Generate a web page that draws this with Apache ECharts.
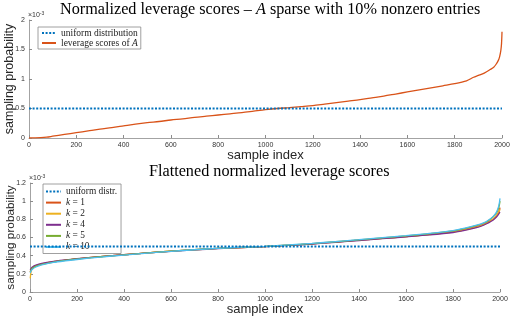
<!DOCTYPE html>
<html><head><meta charset="utf-8">
<script src="https://cdn.jsdelivr.net/npm/echarts@6/dist/echarts.min.js"></script>
<style>html,body{margin:0;padding:0;background:#fff}#c{width:517px;height:318px}</style>
</head><body><div id="c"></div>
<script>
// Top chart: sorted leverage scores (units of 1e-3)
const topX = [0,25,50,75,100,150,200,250,300,350,400,450,500,550,600,650,700,750,800,850,900,950,1000,1050,1100,1150,1200,1250,1300,1350,1400,1450,1500,1550,1600,1650,1700,1750,1800,1850,1880,1900,1925,1950,1965,1975,1985,1990,1995,1998,2000];
const topLev = [0,0.002,0.006,0.015,0.03,0.06,0.09,0.12,0.15,0.175,0.205,0.235,0.26,0.28,0.305,0.325,0.35,0.37,0.39,0.41,0.43,0.455,0.48,0.5,0.515,0.532,0.55,0.575,0.6,0.625,0.65,0.68,0.71,0.745,0.78,0.815,0.85,0.885,0.92,0.97,1.03,1.06,1.1,1.16,1.2,1.25,1.32,1.38,1.48,1.6,1.8];
const uniformVal = 0.5;
const xRange = [0, 2000];

// Bottom chart: flattened leverage scores (units of 1e-3)
const botX = [1,5,10,25,50,100,150,200,300,400,500,600,700,800,900,1000,1100,1200,1300,1400,1500,1600,1700,1800,1850,1900,1930,1950,1970,1985,1995,2000];
const k1  = [0.22,0.25,0.265,0.29,0.31,0.335,0.35,0.365,0.39,0.41,0.43,0.45,0.465,0.48,0.49,0.5,0.515,0.53,0.55,0.57,0.59,0.61,0.635,0.665,0.69,0.72,0.745,0.77,0.8,0.84,0.88,0.93];
const k2  = [0.15,0.23,0.255,0.285,0.305,0.333,0.35,0.365,0.39,0.41,0.43,0.45,0.465,0.48,0.49,0.5,0.515,0.53,0.55,0.57,0.59,0.61,0.632,0.66,0.685,0.715,0.74,0.765,0.8,0.84,0.88,0.91];
const k4  = [0.24,0.26,0.275,0.295,0.315,0.338,0.353,0.366,0.39,0.41,0.43,0.448,0.463,0.478,0.49,0.5,0.513,0.528,0.547,0.567,0.587,0.607,0.628,0.655,0.678,0.708,0.735,0.76,0.79,0.825,0.86,0.88];
const k5  = [0.22,0.245,0.26,0.285,0.305,0.33,0.348,0.362,0.388,0.409,0.43,0.45,0.466,0.481,0.492,0.502,0.517,0.533,0.553,0.574,0.595,0.617,0.642,0.672,0.698,0.73,0.757,0.785,0.825,0.87,0.93,1.0];
const k10 = [0.21,0.235,0.25,0.275,0.298,0.325,0.343,0.358,0.385,0.407,0.428,0.448,0.465,0.481,0.493,0.503,0.518,0.535,0.555,0.576,0.598,0.62,0.645,0.676,0.702,0.735,0.762,0.79,0.83,0.88,0.95,1.03];
const kNames = ['k = 1','k = 2','k = 4','k = 5','k = 10'];

const C = {blue:'#0072BD', orange:'#D95319', yellow:'#EDB120', purple:'#7E2F8E', green:'#77AC30', cyan:'#4DBEEE'};
const pair = (xs, ys) => xs.map((x,i)=>[x, ys[i]]);
const axisCol = '#8c8c8c';
const serif = 'Liberation Serif';
const sans = 'Liberation Sans';

function xAxis(gi){
  return {type:'value', gridIndex:gi, min:0, max:2000, interval:200,
    name:'sample index', nameLocation:'middle', nameGap:11, nameMoveOverlap:false,
    nameTextStyle:{fontFamily:sans, fontSize:13, color:'#262626'},
    axisLine:{lineStyle:{color:axisCol, width:0.8}},
    axisTick:{inside:true, length:3, lineStyle:{color:axisCol}},
    axisLabel:{fontFamily:sans, fontSize:7, color:'#333', margin:4, formatter: v => String(v)},
    splitLine:{show:false}};
}
function yAxis(gi, max, interval, fs){
  return {type:'value', gridIndex:gi, min:0, max:max, interval:interval,
    name:'sampling probability', nameLocation:'middle', nameGap:13, nameMoveOverlap:false,
    nameTextStyle:{fontFamily:sans, fontSize:fs, color:'#262626'},
    axisLine:{show:true, lineStyle:{color:axisCol, width:0.8}},
    axisTick:{show:true, inside:true, length:3, lineStyle:{color:axisCol}},
    axisLabel:{fontFamily:sans, fontSize:7, color:'#333', margin:4, formatter: v => String(+v.toFixed(2))},
    splitLine:{show:false}};
}
const uniLine = (gi, name) => ({name:name, type:'line', xAxisIndex:gi, yAxisIndex:gi, symbol:'none',
  data:pair(xRange, [uniformVal, uniformVal]), lineStyle:{color:C.blue, width:2, type:[2,1.6]}, itemStyle:{color:C.blue}, z:5});
const curve = (gi, name, xs, ys, col) => ({name:name, type:'line', xAxisIndex:gi, yAxisIndex:gi, symbol:'none', smooth:0.3,
  data:pair(xs, ys), lineStyle:{color:col, width:1.3}, itemStyle:{color:col}});

const mkRich = fs => ({n:{fontFamily:serif, fontSize:fs, color:'#222'}, i:{fontFamily:serif, fontSize:fs, fontStyle:'italic', color:'#222'}});

const chart = echarts.init(document.getElementById('c'), null, {renderer:'canvas'});
chart.setOption({
  animation:false,
  backgroundColor:'#fff',
  title:[
    {text:'{n|Normalized leverage scores – }{i|A}{n| sparse with 10% nonzero entries}', left:55, top:-3,
      textStyle:{fontWeight:'normal', rich:{n:{fontFamily:serif, fontSize:16.2, fontWeight:'normal', color:'#000'}, i:{fontFamily:serif, fontSize:16.2, fontWeight:'normal', fontStyle:'italic', color:'#000'}}}},
    {text:'Flattened normalized leverage scores', left:144, top:159,
      textStyle:{fontFamily:serif, fontSize:16.2, fontWeight:'normal', color:'#000'}}
  ],
  grid:[
    {left:29, right:15, top:20, bottom:180, outerBoundsMode:'none', containLabel:false},
    {left:30, right:17, top:183, bottom:26, outerBoundsMode:'none', containLabel:false}
  ],
  xAxis:[xAxis(0), xAxis(1)],
  yAxis:[yAxis(0, 2, 0.5, 12.5), yAxis(1, 1.2, 0.2, 11.8)],
  legend:[
    {data:['uniform distribution','leverage scores of A'], orient:'vertical', left:38, top:27,
      itemWidth:14, itemHeight:6, itemGap:0, padding:[1,3,1,3], borderColor:'#888', borderWidth:0.8, backgroundColor:'#fff',
      itemStyle:{opacity:0},
      formatter: n => n==='leverage scores of A' ? '{n|leverage scores of }{i|A}' : '{n|'+n+'}',
      textStyle:{rich:mkRich(9.5)}},
    {data:['uniform distr.'].concat(kNames), orient:'vertical', left:43, top:184,
      itemWidth:15, itemHeight:6, itemGap:2.1, padding:[3,4,2,2], borderColor:'#888', borderWidth:0.8, backgroundColor:'#fff',
      itemStyle:{opacity:0},
      formatter: n => n.startsWith('k = ') ? '{i|k}{n| = '+n.slice(4)+'}' : '{n|'+n+'}',
      textStyle:{rich:mkRich(9.4)}}
  ],
  graphic:[
    {type:'text', left:28, top:11, style:{text:'{a|×10}{s|-3}', rich:{a:{fontFamily:sans, fontSize:7, fill:'#333'}, s:{fontFamily:sans, fontSize:5, fill:'#333', verticalAlign:'top', padding:[0,0,4,0]}}}},
    {type:'text', left:29, top:174, style:{text:'{a|×10}{s|-3}', rich:{a:{fontFamily:sans, fontSize:7, fill:'#333'}, s:{fontFamily:sans, fontSize:5, fill:'#333', verticalAlign:'top', padding:[0,0,4,0]}}}}
  ],
  series:[
    curve(0, 'leverage scores of A', topX, topLev, C.orange),
    uniLine(0, 'uniform distribution'),
    curve(1, kNames[0], botX, k1, C.orange),
    curve(1, kNames[1], botX, k2, C.yellow),
    curve(1, kNames[2], botX, k4, C.purple),
    curve(1, kNames[3], botX, k5, C.green),
    curve(1, kNames[4], botX, k10, C.cyan),
    uniLine(1, 'uniform distr.')
  ]
});
</script></body></html>
